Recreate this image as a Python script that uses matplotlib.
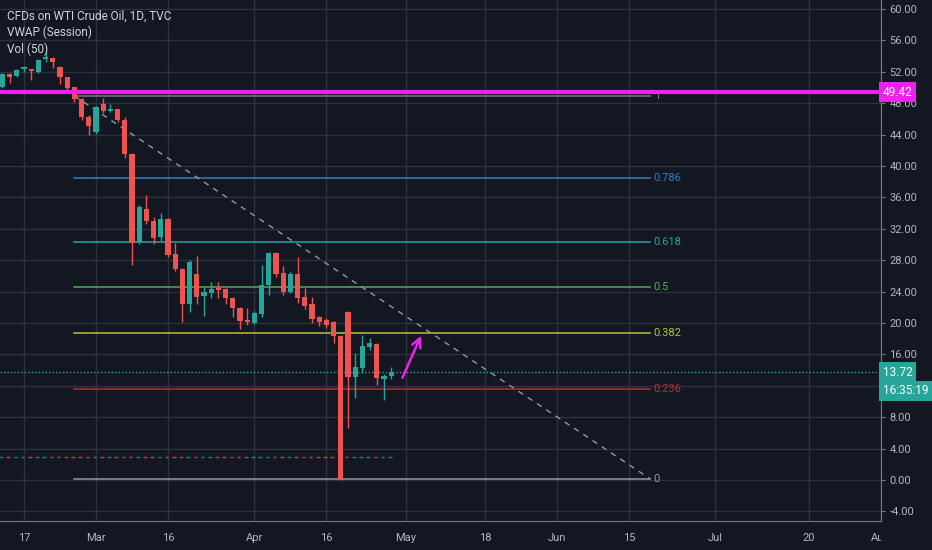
import matplotlib
matplotlib.use('Agg')
import matplotlib.pyplot as plt
import numpy as np
import pandas as pd

# trading days (Good Friday closed), future days used only for the time axis
dates = pd.bdate_range('2020-02-12', '2020-08-14')
dates = dates[dates != pd.Timestamp('2020-04-10')]

opens = [50.1, 51.7, 51.5, 52.3, 52.3, 52.0, 53.6, 53.8, 52.6, 51.3, 50.0, 48.5, 46.2, 44.3,
         47.9, 47.0, 47.2, 45.9, 41.5, 30.3, 34.5, 33.0, 30.9, 33.2, 28.8, 26.9, 22.4, 26.2,
         23.5, 23.8, 24.3, 24.3, 23.2, 21.9, 20.4, 20.0, 21.1, 24.8, 28.9, 26.4, 24.0, 26.2,
         23.3, 22.4, 20.8, 20.4, 20.1, 18.4, 21.4, 13.1, 14.3, 16.9, 17.3, 12.9, 13.2]
highs = [51.9, 51.9, 52.4, 52.7, 52.4, 53.6, 54.5, 53.9, 52.7, 51.4, 50.1, 48.7, 46.5, 47.7,
         48.6, 47.9, 47.3, 46.2, 41.6, 35.0, 36.3, 33.5, 34.0, 33.4, 30.2, 27.0, 28.0, 28.5,
         24.6, 25.2, 25.2, 24.4, 23.3, 22.0, 21.9, 21.5, 27.4, 29.0, 29.0, 27.3, 26.5, 28.4,
         24.4, 23.3, 20.9, 20.6, 20.2, 18.5, 21.5, 16.2, 18.5, 18.1, 17.4, 13.5, 14.4]
lows = [49.9, 50.6, 51.3, 52.0, 50.9, 51.9, 53.2, 52.5, 50.5, 49.7, 48.2, 45.8, 43.9, 44.1,
        46.8, 46.9, 45.6, 41.0, 27.4, 30.1, 32.6, 30.1, 30.5, 28.4, 26.6, 20.1, 21.4, 22.4,
        20.9, 23.2, 23.2, 22.4, 20.8, 19.2, 19.8, 19.9, 20.8, 23.6, 25.8, 23.6, 23.8, 22.5,
        21.8, 20.0, 19.6, 19.4, 17.4, 0.0, 6.6, 10.4, 13.6, 16.5, 12.1, 10.2, 12.9]
closes = [51.7, 51.3, 52.2, 52.4, 52.1, 53.5, 53.8, 53.2, 51.3, 50.0, 48.5, 46.2, 45.1, 47.5,
          47.0, 47.2, 45.8, 41.5, 30.2, 34.8, 33.0, 30.8, 33.2, 28.7, 26.9, 22.4, 27.8, 23.3,
          23.9, 24.3, 24.2, 23.2, 21.9, 20.3, 20.1, 21.3, 24.8, 28.9, 26.2, 24.0, 26.2, 23.2,
          22.2, 20.5, 20.1, 19.7, 18.4, 0.0, 13.1, 14.4, 17.1, 17.4, 13.0, 13.2, 13.72]

fib_levels = [1, 0.786, 0.618, 0.5, 0.382, 0.236, 0]
fib_colors = ['#787b86', '#2f7fc1', '#26a69a', '#4caf50', '#b5c52e', '#b2303a', '#9598a1']
fib_high, fib_low = 48.93, 0.13
fib_start, fib_end = '2020-02-26', '2020-06-18'

hline_price = 49.42
last_price = 13.72
countdown = '16:35:19'
vwap_level = 2.9
arrow_from = ('2020-04-30', 12.7)
arrow_to = ('2020-05-05', 18.7)

tick_dates = ['2020-02-17', '2020-03-02', '2020-03-16', '2020-04-01', '2020-04-16', '2020-05-01',
              '2020-05-18', '2020-06-01', '2020-06-15', '2020-07-01', '2020-07-20', '2020-08-03']
tick_labels = ['17', 'Mar', '16', 'Apr', '16', 'May', '18', 'Jun', '15', 'Jul', '20', 'Aug']

BG = '#131722'
GRID = '#2e323e'
TXT = '#b2b5be'
UP, DOWN = '#26a69a', '#ef5350'
PINK = '#f020f0'
FONT = ['Liberation Sans Narrow', 'Roboto', 'DejaVu Sans']
plt.rcParams['font.family'] = FONT


def pos(d):
    return dates.get_loc(pd.Timestamp(d))


W, H = 932, 550
fig = plt.figure(figsize=(W / 100, H / 100), dpi=100, facecolor=BG)
ax = fig.add_axes([0, 29 / H, 881 / W, 521 / H], facecolor=BG)
tax = fig.add_axes([0, 0, 881 / W, 29 / H], facecolor=BG)

px_bar = 7.2
x_left = 3 - 24 / px_bar
ax.set_xlim(x_left, x_left + 881 / px_bar)
ax.set_ylim((480 - 521) / 7.85, 480 / 7.85)

x = np.arange(len(closes))
o = np.array(opens)
c = np.array(closes)
cols = np.where(c >= o, UP, DOWN)

# grid
yt = np.arange(-4, 61, 4)
for v in yt:
    ax.axhline(v, color=GRID, lw=1, zorder=0)
tick_pos = [pos(d) for d in tick_dates]
for p in tick_pos:
    ax.axvline(p, color=GRID, lw=1, zorder=0)

# fib retracement
fs, fe = pos(fib_start), pos(fib_end)
for lvl, col in zip(fib_levels, fib_colors):
    price = fib_low + lvl * (fib_high - fib_low)
    ax.plot([fs, fe], [price, price], color=col, lw=1.1, zorder=1)
    ax.text(fe + 0.45, price, f'{lvl:g}', color=col, fontsize=8, va='center', ha='left')
ax.plot([fs, fe], [fib_high, fib_low], color='#9598a1', lw=1, ls=(0, (4, 4)), zorder=1)

# vwap / vol dashes
for i in range(len(closes)):
    ax.plot([i - 0.45, i + 0.05], [vwap_level, vwap_level], color=cols[i], lw=1,
            alpha=0.75, solid_capstyle='butt', zorder=1)

# candles
ax.vlines(x, lows, highs, colors=cols, lw=1, zorder=2)
body = np.maximum(np.abs(c - o), 0.25)
ax.bar(x, body, bottom=np.minimum(o, c), width=0.72, color=cols, zorder=3)

# horizontal line and last price
ax.axhline(hline_price, color=PINK, lw=3, zorder=4)
ax.axhline(last_price, color=UP, lw=1, ls=(0, (1, 1.5)), zorder=1)

ax.annotate('', xy=(pos(arrow_to[0]) + 0.3, arrow_to[1]),
            xytext=(pos(arrow_from[0]) + 0.4, arrow_from[1]),
            arrowprops=dict(arrowstyle='->', color=PINK, lw=1.8, mutation_scale=16), zorder=5)

# axes styling
ax.yaxis.tick_right()
ax.set_yticks(yt)
ax.set_yticklabels([f'{v:.2f}' for v in yt])
ax.tick_params(axis='y', colors='#787b86', labelcolor=TXT, labelsize=8, length=3, pad=3)
ax.set_xticks([])
for s in ['top', 'left']:
    ax.spines[s].set_visible(False)
for s in ['right', 'bottom']:
    ax.spines[s].set_color('#787b86')

tax.set_xlim(ax.get_xlim())
tax.set_ylim(0, 1)
tax.axis('off')
for p, lab in zip(tick_pos, tick_labels):
    tax.text(p, 0.42, lab, color=TXT, fontsize=8, ha='center', va='center', clip_on=True)

# legend texts
for k, t in enumerate(['CFDs on WTI Crude Oil, 1D, TVC', 'VWAP (Session)', 'Vol (50)']):
    fig.text(7 / W, 1 - (16 + 16.5 * k) / H, t, color='#d1d4dc', fontsize=8.5, va='center')

# price labels on the axis
def price_box(y_px, text, bg):
    fig.text(883 / W, 1 - y_px / H, text, color='white', fontsize=8.5, va='center', ha='left',
             bbox=dict(boxstyle='square,pad=0.3', fc=bg, ec='none'), zorder=10)

price_box(92, f'{hline_price:.2f}', PINK)
price_box(372, f'{last_price:.2f}', UP)
price_box(391, countdown, UP)

fig.savefig('out.png', dpi=100, facecolor=BG)
